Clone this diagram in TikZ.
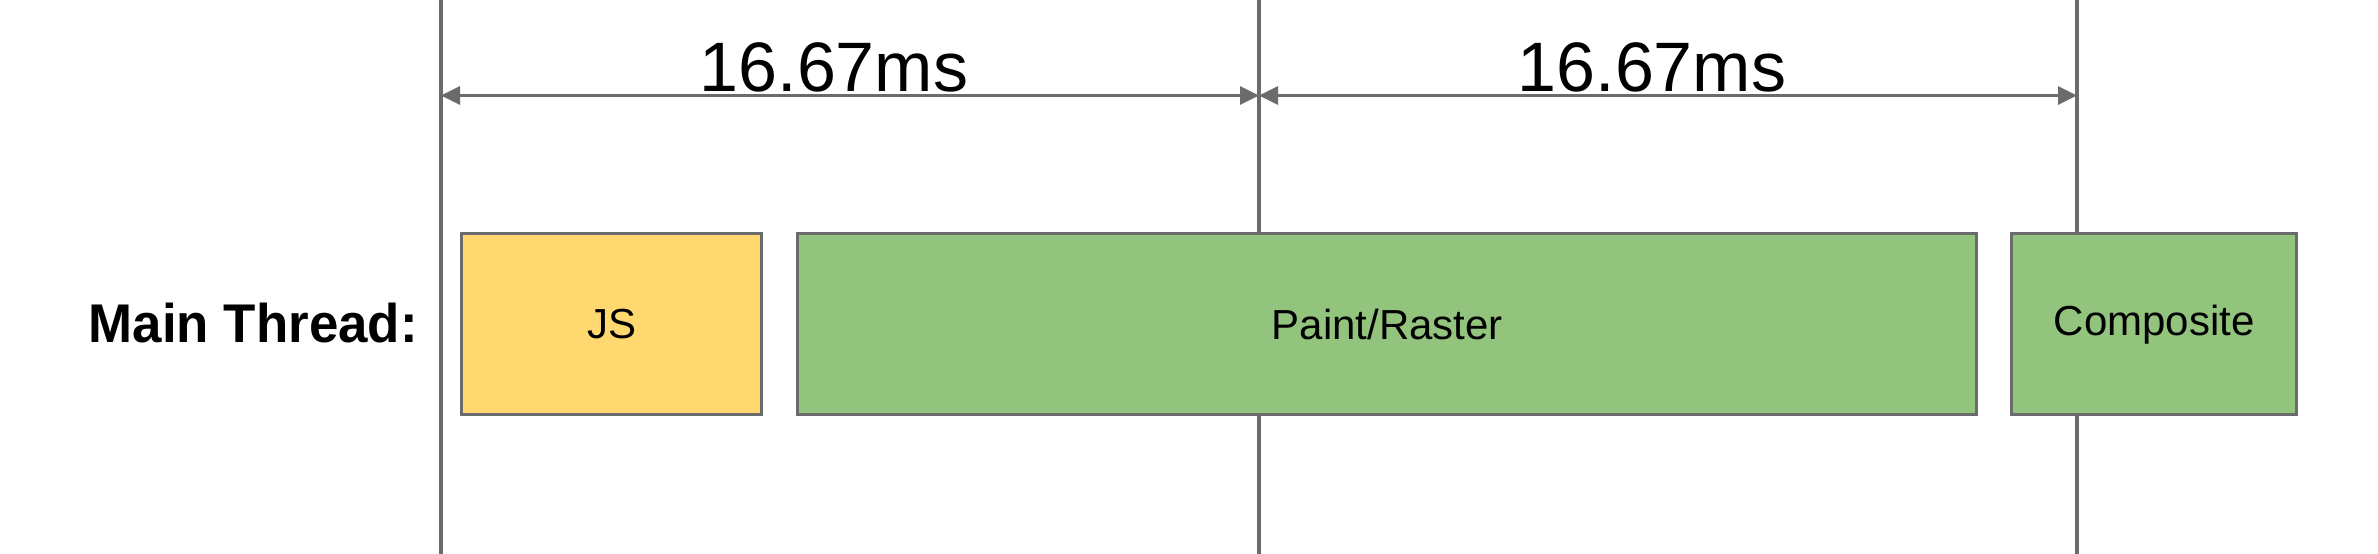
\documentclass[tikz,border=0pt]{standalone}
\usepackage{fontspec}
\setmainfont{Liberation Sans}
\usetikzlibrary{arrows.meta}
\definecolor{lgray}{HTML}{6B6B6B}
\definecolor{jsyellow}{HTML}{FFD96F}
\definecolor{pgreen}{HTML}{93C47D}
\begin{document}
\begin{tikzpicture}[x=1pt,y=-1pt,
  frameline/.style={draw=lgray,line width=3.6pt},
  dimarrow/.style={draw=lgray,line width=3.4pt,{Triangle[length=19pt,width=18pt]}-{Triangle[length=19pt,width=18pt]}},
  taskbox/.style={draw=lgray,line width=3.4pt,anchor=north west,inner sep=0pt,minimum height=181pt,
    font=\fontsize{42pt}{50pt}\selectfont},
  dimlabel/.style={anchor=base,font=\fontsize{70pt}{80pt}\selectfont}]
\useasboundingbox (0,0) rectangle (2378,554);
% frame boundaries
\coordinate (t1) at (441,0);   \coordinate (b1) at (441,554);
\coordinate (t2) at (1259,0);  \coordinate (b2) at (1259,554);
\coordinate (t3) at (2077,0);  \coordinate (b3) at (2077,554);
\draw[frameline] (t1) -- (b1);
\draw[frameline] (t2) -- (b2);
\draw[frameline] (t3) -- (b3);
% dimension arrows
\coordinate (a1) at (441,95.5);
\coordinate (a2) at (1259,95.5);
\coordinate (a3) at (2077,95.5);
\draw[dimarrow] (a2) -- (a1);
\draw[dimarrow] (a3) -- (a2);
\node[dimlabel] (d1) at (834,91) {16.67ms};
\node[dimlabel] (d2) at (1652,91) {16.67ms};
% label
\node[anchor=base east,inner sep=0pt,font=\bfseries\fontsize{54.5pt}{60pt}\selectfont,xscale=0.97] (mt) at (418,342) {Main Thread:};
% tasks
\node[taskbox,fill=jsyellow,minimum width=300pt] (js) at (460,232) {JS};
\node[taskbox,fill=pgreen,minimum width=1179pt] (paint) at (796,232) {Paint/Raster};
\node[taskbox,fill=pgreen,minimum width=285pt] (comp) at (2010,232) {Composite};
\end{tikzpicture}
\end{document}
